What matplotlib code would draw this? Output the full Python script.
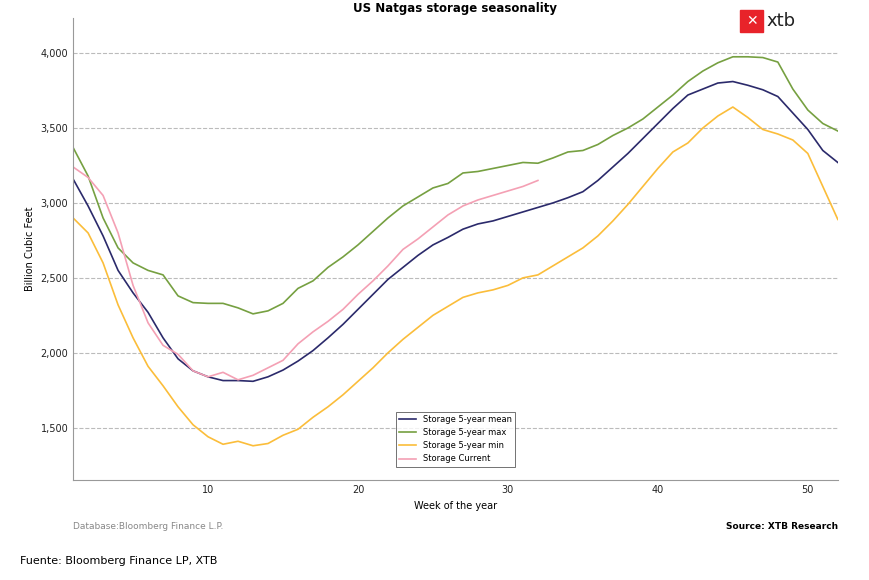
import matplotlib
matplotlib.use("Agg")
import matplotlib.pyplot as plt
from matplotlib.patches import Rectangle
from matplotlib.ticker import FuncFormatter

weeks = list(range(1, 53))
mean5 = [3160, 2980, 2780, 2550, 2400, 2270, 2100, 1960, 1880, 1840, 1815, 1815, 1810,
         1840, 1885, 1945, 2015, 2100, 2190, 2290, 2390, 2490, 2570, 2650, 2720, 2770,
         2825, 2860, 2880, 2910, 2940, 2970, 3000, 3035, 3075, 3150, 3240, 3330, 3430,
         3530, 3630, 3720, 3760, 3800, 3810, 3785, 3755, 3710, 3600, 3490, 3350, 3270]
max5 = [3370, 3180, 2900, 2700, 2600, 2550, 2520, 2380, 2335, 2330, 2330, 2300, 2260,
        2280, 2330, 2430, 2480, 2570, 2640, 2720, 2810, 2900, 2980, 3040, 3100, 3130,
        3200, 3210, 3230, 3250, 3270, 3265, 3300, 3340, 3350, 3390, 3450, 3500, 3560,
        3640, 3720, 3810, 3880, 3935, 3975, 3975, 3970, 3940, 3760, 3620, 3530, 3480]
min5 = [2900, 2800, 2600, 2320, 2100, 1910, 1780, 1640, 1520, 1440, 1390, 1410, 1380,
        1395, 1450, 1490, 1570, 1640, 1720, 1810, 1900, 2000, 2090, 2170, 2250, 2310,
        2370, 2400, 2420, 2450, 2500, 2520, 2580, 2640, 2700, 2780, 2880, 2990, 3110,
        3230, 3340, 3400, 3500, 3580, 3640, 3570, 3490, 3460, 3420, 3330, 3110, 2890]
current = [3240, 3170, 3050, 2800, 2450, 2200, 2050, 1990, 1880, 1840, 1870, 1820, 1850,
           1900, 1950, 2060, 2140, 2210, 2290, 2390, 2480, 2580, 2690, 2760, 2840, 2920,
           2980, 3020, 3050, 3080, 3110, 3150]

fig = plt.figure(figsize=(8.7, 5.8), dpi=100)
ax = fig.add_axes([0.084, 0.172, 0.879, 0.797])

ax.plot(weeks, mean5, color="#2b2a6b", lw=1.2, label="Storage 5-year mean")
ax.plot(weeks, max5, color="#76a041", lw=1.2, label="Storage 5-year max")
ax.plot(weeks, min5, color="#fbbd3a", lw=1.2, label="Storage 5-year min")
ax.plot(weeks[:len(current)], current, color="#f4a0b4", lw=1.2, label="Storage Current")

ax.set_xlim(1, 52)
ax.set_ylim(1150, 4234)
ax.set_xticks([10, 20, 30, 40, 50])
ax.set_yticks([1500, 2000, 2500, 3000, 3500, 4000])
ax.yaxis.set_major_formatter(FuncFormatter(lambda v, p: f"{int(v):,}"))
ax.tick_params(labelsize=7, length=0, colors="#222222")
ax.grid(axis="y", ls="--", color="#bbbbbb", lw=0.8)
for s in ["top", "right"]:
    ax.spines[s].set_visible(False)
for s in ["left", "bottom"]:
    ax.spines[s].set_color("#999999")

ax.set_xlabel("Week of the year", fontsize=7)
ax.set_ylabel("Billion Cubic Feet", fontsize=7)
ax.set_title("US Natgas storage seasonality", fontsize=8.5, fontweight="bold", pad=4)
leg = ax.legend(loc="lower center", bbox_to_anchor=(0.5, 0.02), fontsize=6,
                frameon=True, edgecolor="#333333", fancybox=False)
leg.get_frame().set_linewidth(0.6)

fig.text(0.084, 0.088, "Database:Bloomberg Finance L.P.", fontsize=6.5, color="#888888")
fig.text(0.963, 0.088, "Source: XTB Research", fontsize=6.5, fontweight="bold", ha="right")
fig.text(0.023, 0.028, "Fuente: Bloomberg Finance LP, XTB", fontsize=8)

# logo
fig.patches.append(Rectangle((0.851, 0.945), 0.026, 0.038, transform=fig.transFigure,
                             color="#e8232a"))
fig.text(0.864, 0.964, "✕", color="white", fontsize=10, ha="center", va="center",
         fontweight="bold")
fig.text(0.881, 0.964, "xtb", fontsize=13, va="center", color="#222222")

fig.savefig("out.png", dpi=100)
